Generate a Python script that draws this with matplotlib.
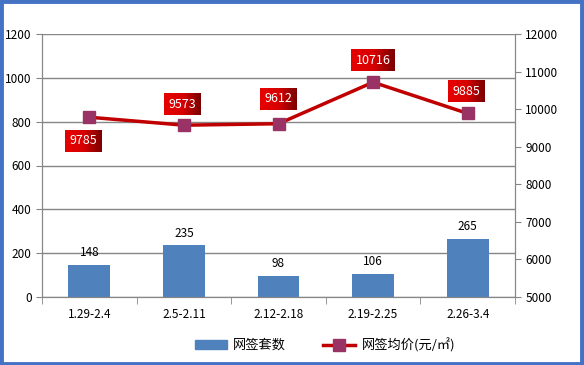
import numpy as np
import matplotlib.pyplot as plt
from matplotlib.patches import Rectangle
from matplotlib.lines import Line2D
from matplotlib.patches import Patch
from matplotlib.colors import LinearSegmentedColormap

plt.rcParams['font.family'] = ['Noto Sans CJK SC', 'DejaVu Sans']
plt.rcParams['font.size'] = 8.5

cats = ['1.29-2.4', '2.5-2.11', '2.12-2.18', '2.19-2.25', '2.26-3.4']
counts = [148, 235, 98, 106, 265]
prices = [9785, 9573, 9612, 10716, 9885]
# label offsets in points (dx, dy) relative to each point
offsets = [(-4, -17), (-1, 15), (0, 18), (0, 16), (-1, 16)]

grey = '#868686'
fig = plt.figure(figsize=(5.84, 3.65), dpi=100)
ax = fig.add_axes([42/584, 1-297/365, 473/584, 263/365])
ax2 = ax.twinx()

x = np.arange(len(cats))
bars = ax.bar(x, counts, width=0.44, color='#4F81BD', zorder=2)
for xi, c in zip(x, counts):
    ax.annotate(str(c), (xi, c), xytext=(0, 4), textcoords='offset points',
                ha='center', va='bottom', fontsize=8.5)

ax.set_ylim(0, 1200)
ax.set_yticks(range(0, 1201, 200))
ax.set_xlim(-0.5, 4.5)
ax.set_xticks(x)
ax.set_xticklabels(cats)
ax.set_xticks(np.arange(-0.5, 5, 1), minor=True)
ax.tick_params(axis='x', which='major', length=0, pad=8)
ax.tick_params(axis='x', which='minor', length=5, color=grey, direction='out')
ax.tick_params(axis='y', length=4, color=grey, direction='out')
ax.grid(axis='y', color=grey, lw=1, zorder=0)
ax.set_axisbelow(True)

ax2.plot(x, prices, color='#C00000', lw=2.5, marker='s', markersize=9,
         markerfacecolor='#993366', markeredgecolor='#993366', zorder=3)
ax2.set_ylim(5000, 12000)
ax2.set_yticks(range(5000, 12001, 1000))
ax2.tick_params(axis='y', length=4, color=grey, direction='out')

for a in (ax, ax2):
    for s in a.spines.values():
        s.set_color(grey)
    a.spines['top'].set_visible(False)

# price labels with red gradient boxes
labels = []
for xi, p, (dx, dy) in zip(x, prices, offsets):
    t = ax2.annotate(str(p), (xi, p), xytext=(dx, dy), textcoords='offset points',
                     ha='center', va='center', color='white', fontsize=9, zorder=10,
                     bbox=dict(boxstyle='square,pad=0.35', fc='none', ec='none'))
    labels.append(t)

fig.canvas.draw()
grad = np.linspace(0, 1, 64).reshape(1, -1)
cmap = LinearSegmentedColormap.from_list('rg', ['#E60000', '#D80000', '#7A0000'])
W, H = fig.bbox.width, fig.bbox.height
for t in labels:
    bb = t.get_bbox_patch().get_window_extent()
    gax = fig.add_axes([bb.x0/W, bb.y0/H, bb.width/W, bb.height/H], zorder=5)
    gax.imshow(grad, aspect='auto', cmap=cmap)
    gax.axis('off')
    fig.text((bb.x0+bb.x1)/2/W, (bb.y0+bb.y1)/2/H, t.get_text(), color='white',
             ha='center', va='center', fontsize=9, zorder=20)
    t.set_visible(False)

handles = [Patch(color='#4F81BD'),
           Line2D([], [], color='#C00000', lw=2.5, marker='s', markersize=8,
                  markerfacecolor='#993366', markeredgecolor='#993366')]
fig.legend(handles, ['网签套数', '网签均价(元/㎡)'], loc='center', ncol=2,
           bbox_to_anchor=(325/584, 1-345/365), frameon=False, handlelength=2.4,
           handletextpad=0.5, columnspacing=2.8, fontsize=9.5)

fig.patches.append(Rectangle((0.002, 0.003), 0.994, 0.993, transform=fig.transFigure,
                             fill=False, ec='#4472C4', lw=3.5))

fig.savefig('out.png', dpi=100)
